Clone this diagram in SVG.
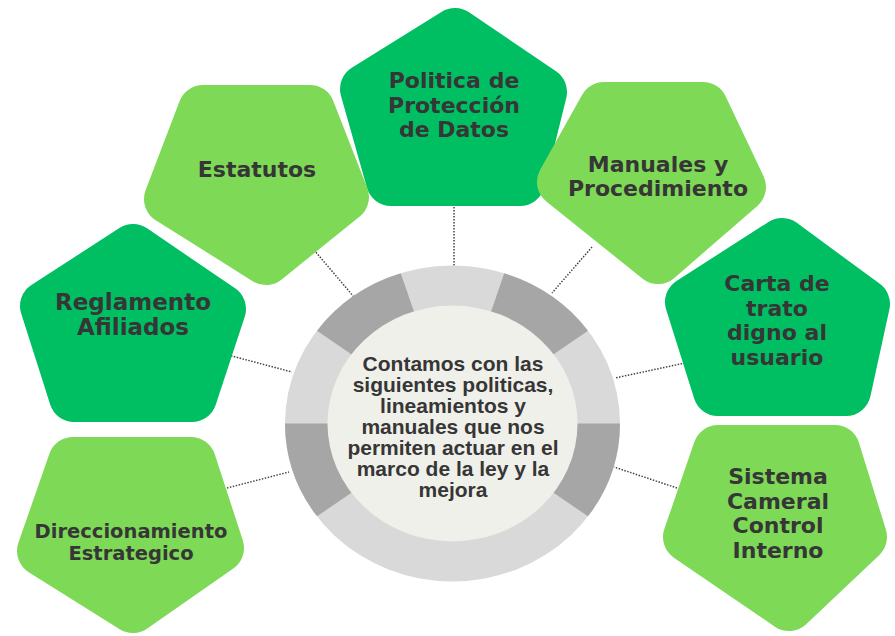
<svg xmlns="http://www.w3.org/2000/svg" width="895" height="636" viewBox="0 0 895 636">
<style>
.lg{fill:#7ed957;stroke:#7ed957;stroke-width:50;stroke-linejoin:round}
.dg{fill:#00bf63;stroke:#00bf63;stroke-width:50;stroke-linejoin:round}
.lbl{font-family:"DejaVu Sans",sans-serif;font-weight:bold;font-size:22px;fill:#363636;text-anchor:middle}
.ctr{font-family:"Liberation Sans",Arial,sans-serif;font-weight:bold;font-size:21px;fill:#363636;text-anchor:middle}
.con{stroke:#444;stroke-width:1.5;stroke-dasharray:1.5 1.5;fill:none}
.ringL{fill:#d9d9d9}
.ringD{fill:#a6a6a6}
</style>
<rect width="895" height="636" fill="#ffffff"/>
<g id="connectors">
<line class="con" x1="454" y1="207" x2="454" y2="266"/>
<line class="con" x1="314" y1="250" x2="354" y2="297"/>
<line class="con" x1="592" y1="247" x2="552" y2="293"/>
<line class="con" x1="228" y1="355" x2="292" y2="372"/>
<line class="con" x1="685" y1="363" x2="615" y2="378"/>
<line class="con" x1="677" y1="488" x2="614" y2="467"/>
<line class="con" x1="227" y1="488" x2="289" y2="472"/>
</g>
<g id="center">
<g transform="translate(452.5,423.5) scale(1,0.943)">
<circle class="ringL" r="167.5"/>
<path class="ringD" d="M0,0 L51.76,-159.3 A167.5,167.5 0 0 1 135.5,-98.45 Z"/>
<path class="ringD" d="M0,0 L167.5,0 A167.5,167.5 0 0 1 135.5,98.45 Z"/>
<path class="ringD" d="M0,0 L-135.5,98.45 A167.5,167.5 0 0 1 -167.5,0 Z"/>
<path class="ringD" d="M0,0 L-135.5,-98.45 A167.5,167.5 0 0 1 -51.76,-159.3 Z"/>
<circle r="125" fill="#f0f0ea"/>
</g>
<text class="ctr" x="453" y="371">Contamos con las</text>
<text class="ctr" x="453" y="392">siguientes politicas,</text>
<text class="ctr" x="453" y="413">lineamientos y</text>
<text class="ctr" x="453" y="434">manuales que nos</text>
<text class="ctr" x="453" y="455">permiten actuar en el</text>
<text class="ctr" x="453" y="476">marco de la ley y la</text>
<text class="ctr" x="453" y="497">mejora</text>
</g>
<g id="politica">
<polygon class="dg" points="455,33 542,92 520,181 391,181 365,89"/>
<text class="lbl" x="454" y="88">Politica de</text>
<text class="lbl" x="454" y="112.5">Protección</text>
<text class="lbl" x="454" y="137">de Datos</text>
</g>
<g id="estatutos">
<polygon class="lg" points="203,110 310,110 344,197 266,260 169,199"/>
<text class="lbl" x="257" y="177">Estatutos</text>
</g>
<g id="manuales">
<polygon class="lg" points="604,107 703,107 741,187 658,259 562,182"/>
<text class="lbl" x="658" y="172">Manuales y</text>
<text class="lbl" x="658" y="196">Procedimiento</text>
</g>
<g id="reglamento">
<polygon class="dg" points="133,249 221,309 192,397 74,397 45,306"/>
<text class="lbl" x="133" y="310" style="font-size:23px">Reglamento</text>
<text class="lbl" x="133" y="335" style="font-size:23px">Afiliados</text>
</g>
<g id="carta">
<polygon class="dg" points="782,243 865,304 846,391 718,391 690,302"/>
<text class="lbl" x="777" y="291">Carta de</text>
<text class="lbl" x="777" y="315.5">trato</text>
<text class="lbl" x="777" y="340">digno al</text>
<text class="lbl" x="777" y="364.5">usuario</text>
</g>
<g id="sistema">
<polygon class="lg" points="718,450 835,450 862,537 789,606 688,537"/>
<text class="lbl" x="778" y="484">Sistema</text>
<text class="lbl" x="778" y="509">Cameral</text>
<text class="lbl" x="778" y="533">Control</text>
<text class="lbl" x="778" y="558">Interno</text>
</g>
<g id="direccionamiento">
<polygon class="lg" points="73,462 191,462 219,548 133,608 42,551"/>
<text class="lbl" x="131" y="538" style="font-size:19.5px">Direccionamiento</text>
<text class="lbl" x="131" y="560" style="font-size:19.5px">Estrategico</text>
</g>
</svg>
